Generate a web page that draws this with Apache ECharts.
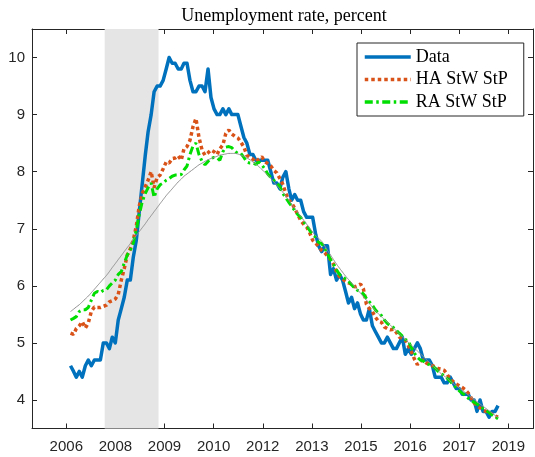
<!DOCTYPE html>
<html>
<head>
<meta charset="utf-8">
<script src="https://cdn.jsdelivr.net/npm/echarts@6/dist/echarts.min.js"></script>
<style>
  html, body { margin: 0; padding: 0; background: #fff; }
  #chart { width: 535px; height: 457px; }
</style>
</head>
<body>
<div id="chart"></div>
<script>
// monthly series, Jan 2007 .. Dec 2018
const startYear = 2007
const dataRate = [
  4.6, 4.5, 4.4, 4.5, 4.4, 4.6, 4.7, 4.6, 4.7, 4.7, 4.7, 5.0,
  5.0, 4.9, 5.1, 5.0, 5.4, 5.6, 5.8, 6.1, 6.1, 6.5, 6.8, 7.3,
  7.8, 8.3, 8.7, 9.0, 9.4, 9.5, 9.5, 9.6, 9.8, 10.0, 9.9, 9.9,
  9.8, 9.8, 9.9, 9.9, 9.6, 9.4, 9.4, 9.5, 9.5, 9.4, 9.8, 9.3,
  9.1, 9.0, 9.0, 9.1, 9.0, 9.1, 9.0, 9.0, 9.0, 8.8, 8.6, 8.5,
  8.3, 8.3, 8.2, 8.2, 8.2, 8.2, 8.2, 8.0, 7.8, 7.8, 7.7, 7.9,
  8.0, 7.7, 7.5, 7.6, 7.5, 7.5, 7.3, 7.2, 7.2, 7.2, 6.9, 6.7,
  6.6, 6.7, 6.7, 6.2, 6.3, 6.1, 6.2, 6.1, 5.9, 5.7, 5.8, 5.6,
  5.7, 5.5, 5.4, 5.4, 5.6, 5.3, 5.2, 5.1, 5.0, 5.0, 5.1, 5.0,
  4.9, 4.9, 5.0, 5.1, 4.8, 4.9, 4.8, 4.9, 5.0, 4.9, 4.7, 4.7,
  4.7, 4.6, 4.4, 4.4, 4.4, 4.3, 4.3, 4.4, 4.3, 4.2, 4.2, 4.1,
  4.1, 4.1, 4.0, 4.0, 3.8, 4.0, 3.8, 3.8, 3.7, 3.8, 3.8, 3.9
]
const haStwStp = [
  5.17, 5.15, 5.25, 5.30, 5.37, 5.26, 5.35, 5.55, 5.63, 5.62, 5.62, 5.64,
  5.66, 5.72, 5.74, 5.77, 5.85, 6.10, 6.30, 6.54, 6.65, 6.80, 7.05, 7.40,
  7.62, 7.74, 7.85, 8.00, 7.72, 7.90, 7.94, 8.05, 8.17, 8.15, 8.23, 8.24,
  8.28, 8.20, 8.40, 8.44, 8.55, 8.79, 8.93, 8.60, 8.38, 8.29, 8.33, 8.38,
  8.35, 8.30, 8.40, 8.47, 8.67, 8.73, 8.66, 8.62, 8.59, 8.52, 8.43, 8.29,
  8.25, 8.22, 8.17, 8.22, 8.26, 8.18, 8.14, 8.10, 8.02, 7.98, 7.88, 7.78,
  7.62, 7.50, 7.45, 7.36, 7.25, 7.15, 7.08, 7.03, 6.93, 6.80, 6.75, 6.68,
  6.62, 6.58, 6.52, 6.46, 6.38, 6.25, 6.16, 6.12, 6.08, 6.05, 6.03, 5.98,
  6.00, 6.03, 5.95, 5.68, 5.60, 5.55, 5.45, 5.38, 5.36, 5.28, 5.25, 5.23,
  5.24, 5.18, 5.10, 5.08, 5.05, 4.95, 4.85, 4.72, 4.62, 4.68, 4.70, 4.65,
  4.62, 4.60, 4.58, 4.55, 4.54, 4.52, 4.45, 4.36, 4.32, 4.28, 4.25, 4.22,
  4.18, 4.12, 4.04, 3.95, 3.90, 3.86, 3.82, 3.80, 3.78, 3.75, 3.72, 3.70
]
const raStwStp = [
  5.40, 5.43, 5.46, 5.55, 5.58, 5.58, 5.62, 5.75, 5.87, 5.90, 5.88, 5.92,
  5.93, 6.00, 6.05, 6.10, 6.20, 6.25, 6.40, 6.54, 6.62, 6.75, 6.98, 7.25,
  7.48, 7.62, 7.72, 7.80, 7.55, 7.70, 7.77, 7.80, 7.85, 7.88, 7.92, 7.94,
  7.94, 7.95, 8.03, 8.10, 8.30, 8.45, 8.50, 8.30, 8.18, 8.12, 8.18, 8.23,
  8.25, 8.24, 8.20, 8.35, 8.43, 8.44, 8.42, 8.36, 8.32, 8.32, 8.25, 8.17,
  8.15, 8.15, 8.13, 8.17, 8.12, 8.05, 7.96, 7.90, 7.85, 7.80, 7.74, 7.62,
  7.54, 7.46, 7.40, 7.32, 7.25, 7.20, 7.12, 7.06, 6.97, 6.90, 6.85, 6.76,
  6.74, 6.66, 6.56, 6.46, 6.38, 6.28, 6.20, 6.15, 6.12, 6.08, 6.02, 5.96,
  5.92, 5.90, 5.86, 5.78, 5.72, 5.66, 5.58, 5.52, 5.48, 5.40, 5.34, 5.30,
  5.27, 5.22, 5.17, 5.12, 5.06, 5.03, 4.92, 4.82, 4.75, 4.70, 4.68, 4.64,
  4.62, 4.59, 4.56, 4.50, 4.46, 4.42, 4.38, 4.33, 4.26, 4.22, 4.16, 4.12,
  4.08, 4.03, 3.99, 3.96, 3.93, 3.90, 3.85, 3.82, 3.78, 3.74, 3.70, 3.67
]
const trend = [
  5.55, 5.59, 5.63, 5.67, 5.72, 5.77, 5.82, 5.88, 5.94, 6.00, 6.06, 6.12,
  6.18, 6.25, 6.32, 6.39, 6.46, 6.53, 6.60, 6.67, 6.74, 6.81, 6.88, 6.95,
  7.02, 7.09, 7.16, 7.23, 7.30, 7.37, 7.44, 7.51, 7.58, 7.64, 7.70, 7.76,
  7.82, 7.87, 7.92, 7.96, 8.00, 8.04, 8.08, 8.12, 8.15, 8.18, 8.21, 8.23,
  8.25, 8.27, 8.29, 8.30, 8.31, 8.32, 8.32, 8.32, 8.31, 8.29, 8.27, 8.24,
  8.21, 8.17, 8.13, 8.09, 8.04, 7.99, 7.94, 7.88, 7.82, 7.76, 7.70, 7.64,
  7.57, 7.50, 7.43, 7.36, 7.29, 7.22, 7.15, 7.08, 7.01, 6.94, 6.88, 6.83,
  6.78, 6.70, 6.62, 6.54, 6.46, 6.38, 6.31, 6.24, 6.17, 6.11, 6.05, 5.99,
  5.93, 5.87, 5.81, 5.75, 5.69, 5.63, 5.57, 5.51, 5.46, 5.41, 5.36, 5.31,
  5.26, 5.21, 5.16, 5.11, 5.06, 5.01, 4.96, 4.91, 4.86, 4.81, 4.76, 4.71,
  4.66, 4.61, 4.56, 4.51, 4.46, 4.42, 4.38, 4.33, 4.29, 4.25, 4.21, 4.17,
  4.13, 4.09, 4.05, 4.01, 3.97, 3.93, 3.89, 3.85, 3.81, 3.77, 3.73, 3.69
]
// x ticks sit on datenum multiples of 500
const xTicks = [733000, 733500, 734000, 734500, 735000, 735500, 736000, 736500, 737000, 737500]
const xTickLabels = ['2006', '2008', '2009', '2010', '2012', '2013', '2015', '2016', '2017', '2019']
const yTicks = [4, 5, 6, 7, 8, 9, 10]
const recession = [[2007, 12, 15], [2009, 6, 15]]

const datenum = (y, m, d) => (Date.UTC(y, m - 1, d) - Date.UTC(1970, 0, 1)) / 864e5 + 719529
const monthX = dataRate.map((_, i) => datenum(startYear + Math.floor(i / 12), (i % 12) + 1, 1))
const pairs = arr => arr.map((v, i) => [monthX[i], v])

const axisColor = '#262626'
const sans = 'Liberation Sans, Arial, sans-serif'
const serif = 'Liberation Serif, Times New Roman, serif'

const xBase = {
  type: 'value', min: 732651, max: 737751,
  axisLine: { show: true, onZero: false, lineStyle: { color: axisColor, width: 1 } },
  axisTick: { show: true, inside: true, length: 5, customValues: xTicks, lineStyle: { color: axisColor } },
  splitLine: { show: false }
}
const yBase = {
  type: 'value', min: 3.5, max: 10.5,
  axisLine: { show: true, onZero: false, lineStyle: { color: axisColor, width: 1 } },
  axisTick: { show: true, inside: true, length: 5, customValues: yTicks, lineStyle: { color: axisColor } },
  splitLine: { show: false }
}

let myChart = echarts.init(document.getElementById('chart'), null, { renderer: 'canvas' })
let option = {
  animation: false,
  backgroundColor: '#fff',
  grid: { left: 32, right: 2, top: 29, bottom: 28.5, containLabel: false },
  graphic: [{
    type: 'text', x: 284, y: 16,
    style: { text: 'Unemployment rate, percent', font: '18px ' + serif, fill: '#000', textAlign: 'center', textVerticalAlign: 'middle' }
  }],
  legend: {
    orient: 'vertical', left: 357, top: 43,
    data: ['Data', 'HA StW StP', 'RA StW StP'],
    itemWidth: 46, itemHeight: 12, itemGap: 4.5,
    padding: [5, 8, 5, 6],
    borderColor: axisColor, borderWidth: 1, backgroundColor: '#fff',
    itemStyle: { opacity: 0 },
    lineStyle: { width: 3.5 },
    textStyle: { fontFamily: serif, fontSize: 18, color: '#000', lineHeight: 18, width: 100 }
  },
  xAxis: [
    Object.assign({}, xBase, {
      position: 'bottom',
      axisLabel: {
        customValues: xTicks, margin: 11, fontSize: 15, fontFamily: sans, color: axisColor,
        formatter: v => xTickLabels[xTicks.indexOf(v)]
      }
    }),
    Object.assign({}, xBase, { position: 'top', axisLabel: { show: false } })
  ],
  yAxis: [
    Object.assign({}, yBase, {
      position: 'left',
      axisLabel: { customValues: yTicks, margin: 7, fontSize: 15, fontFamily: sans, color: axisColor }
    }),
    Object.assign({}, yBase, { position: 'right', axisLabel: { show: false } })
  ],
  series: [
    {
      name: 'recession', type: 'line', data: [], z: -1, silent: true,
      markArea: {
        silent: true,
        itemStyle: { color: '#e5e5e5' },
        data: [[{ xAxis: datenum(...recession[0]) }, { xAxis: datenum(...recession[1]) }]]
      }
    },
    {
      name: 'Data', type: 'line', data: pairs(dataRate), symbol: 'none', z: 3,
      color: '#0072BD',
      lineStyle: { color: '#0072BD', width: 3.5, join: 'round' }
    },
    {
      name: 'HA StW StP', type: 'line', data: pairs(haStwStp), symbol: 'none', z: 4,
      color: '#D95319',
      lineStyle: { color: '#D95319', width: 3.5, type: [3.5, 3], cap: 'butt' }
    },
    {
      name: 'RA StW StP', type: 'line', data: pairs(raStwStp), symbol: 'none', z: 5,
      color: '#00DD00',
      lineStyle: { color: '#00DD00', width: 3, type: [8, 3.5, 2.5, 3.5], cap: 'butt' }
    },
    {
      name: 'trend', type: 'line', data: pairs(trend), symbol: 'none', z: 6, smooth: true,
      lineStyle: { color: '#909090', width: 1 }
    }
  ]
}
myChart.setOption(option)
</script>
</body>
</html>
